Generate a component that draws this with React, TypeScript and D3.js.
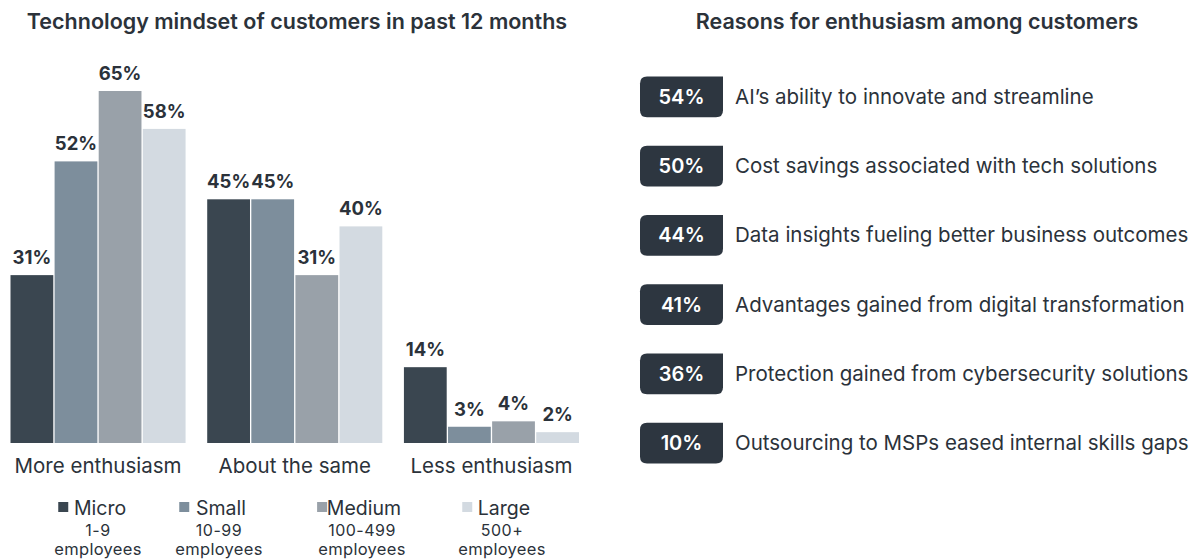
import React from "react";
import * as d3 from "d3";

// ---------- data ----------
const categories = ["More enthusiasm", "About the same", "Less enthusiasm"];
const seriesNames = ["Micro", "Small", "Medium", "Large"];
const seriesRanges = ["1-9", "10-99", "100-499", "500+"];
const microValues = [31, 45, 14];
const smallValues = [52, 45, 3];
const mediumValues = [65, 31, 4];
const largeValues = [58, 40, 2];
const seriesColors = ["#3a4650", "#7d8e9c", "#99a1a9", "#d3dae1"];

const reasonValues = [54, 50, 44, 41, 36, 10];
const reasonLabels = [
  "AI’s ability to innovate and streamline",
  "Cost savings associated with tech solutions",
  "Data insights fueling better business outcomes",
  "Advantages gained from digital transformation",
  "Protection gained from cybersecurity solutions",
  "Outsourcing to MSPs eased internal skills gaps",
];

const leftTitle = "Technology mindset of customers in past 12 months";
const rightTitle = "Reasons for enthusiasm among customers";

// ---------- layout ----------
const W = 1195;
const H = 560;
const FONT = "Inter, 'Noto Sans', sans-serif";
const TEXT = "#2b323a";
const BADGE = "#2d3640";
const legendCenters = [98, 219, 362, 502];

function badgePath(x: number, y: number, w: number, h: number, r: number) {
  return [
    `M${x + r},${y}`,
    `L${x + w},${y}`,
    `L${x + w},${y + h - r}`,
    `Q${x + w},${y + h} ${x + w - r},${y + h}`,
    `L${x + r},${y + h}`,
    `Q${x},${y + h} ${x},${y + h - r}`,
    `L${x},${y + r}`,
    `Q${x},${y} ${x + r},${y}`,
    "Z",
  ].join(" ");
}

export default function App() {
  const seriesValues = [microValues, smallValues, mediumValues, largeValues];

  const x0 = d3.scaleBand<string>().domain(categories).range([10.5, 579]).paddingInner(0.11);
  const x1 = d3
    .scaleBand<string>()
    .domain(seriesNames)
    .range([0, x0.bandwidth()])
    .paddingInner(0.03);
  const y = d3.scaleLinear().domain([0, 65]).range([443, 91]);

  const rowIdx = reasonValues.map((_, i) => String(i));
  // rows: centers ~97 + 69.3*i, badge height ~41
  const yRow = d3.scaleBand<string>().domain(rowIdx).range([76.5, 463.5]).paddingInner(0.41);
  const badgeX = 640;
  const badgeW = 83;

  return (
    <svg
      width={W}
      height={H}
      style={{ position: "absolute", left: 0, top: 0, background: "#ffffff" }}
      fontFamily={FONT}
    >
      {/* titles */}
      <text x={297} y={29} textAnchor="middle" fontSize={21.5} fontWeight={600} fill={TEXT}>
        {leftTitle}
      </text>
      <text x={917} y={29} textAnchor="middle" fontSize={21.5} fontWeight={600} fill={TEXT}>
        {rightTitle}
      </text>

      {/* grouped bars */}
      {categories.map((cat, ci) => (
        <g key={cat} transform={`translate(${x0(cat)},0)`}>
          {seriesNames.map((s, si) => {
            const v = seriesValues[si][ci];
            const bx = x1(s) as number;
            const bw = x1.bandwidth();
            return (
              <g key={s}>
                <rect x={bx} y={y(v)} width={bw} height={y(0) - y(v)} fill={seriesColors[si]} />
                <text
                  x={bx + bw / 2}
                  y={y(v) - 11}
                  textAnchor="middle"
                  fontSize={18.5}
                  fontWeight={700}
                  fill={TEXT}
                >
                  {`${v}%`}
                </text>
              </g>
            );
          })}
          <text
            x={x0.bandwidth() / 2}
            y={473}
            textAnchor="middle"
            fontSize={20.5}
            fill={TEXT}
          >
            {cat}
          </text>
        </g>
      ))}

      {/* legend */}
      {seriesNames.map((s, si) => {
        const cx = legendCenters[si];
        return (
          <g key={s}>
            <text x={cx + 2} y={515} textAnchor="middle" fontSize={19.5} fill={TEXT}>
              {s}
            </text>
            <LegendSwatch cx={cx - 4} label={s} color={seriesColors[si]} />
            <text x={cx} y={536} textAnchor="middle" fontSize={16} fill={TEXT} letterSpacing={0.5}>
              {seriesRanges[si]}
            </text>
            <text x={cx} y={555} textAnchor="middle" fontSize={16.5} fill={TEXT} letterSpacing={0.3}>
              employees
            </text>
          </g>
        );
      })}

      {/* right panel */}
      {reasonValues.map((v, i) => {
        const top = yRow(String(i)) as number;
        const h = yRow.bandwidth();
        return (
          <g key={i}>
            <path d={badgePath(badgeX, top, badgeW, h, 7)} fill={BADGE} />
            <text
              x={badgeX + badgeW / 2}
              y={top + h / 2 + 7}
              textAnchor="middle"
              fontSize={20}
              fontWeight={600}
              fill="#ffffff"
            >
              {`${v}%`}
            </text>
            <text x={badgeX + badgeW + 12} y={top + h / 2 + 7} fontSize={20.5} fill={TEXT}>
              {reasonLabels[i]}
            </text>
          </g>
        );
      })}
    </svg>
  );
}

function LegendSwatch({ cx, label, color }: { cx: number; label: string; color: string }) {
  // place the square just left of the centered name
  const approx = label.length * 10.3;
  const left = cx + 6 - approx / 2 - 16;
  return <rect x={left} y={502} width={10} height={10} fill={color} />;
}
